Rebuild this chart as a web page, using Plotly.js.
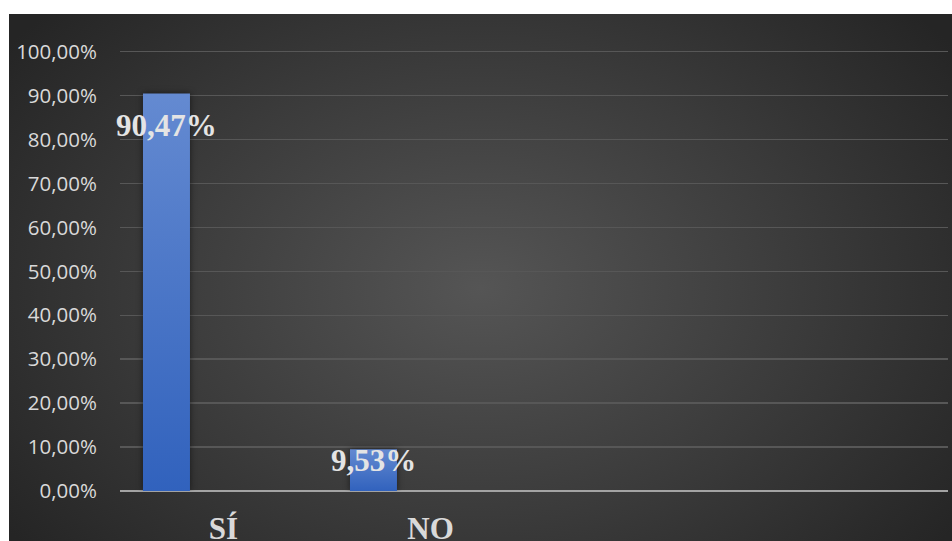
<!DOCTYPE html>
<html>
<head>
<meta charset="utf-8">
<script src="https://cdn.plot.ly/plotly-3.0.1.min.js"></script>
<style>
  html, body { margin: 0; padding: 0; background: #ffffff; }
  #wrap { position: relative; width: 952px; height: 541px; overflow: hidden; }
  #bg {
    position: absolute; left: 9px; top: 14px; width: 943px; height: 527px;
    background: radial-gradient(ellipse 62% 78% at 50% 52%, #555555 0%, #3b3b3b 55%, #252525 100%);
  }
  #chart { position: absolute; left: 0; top: 0; width: 952px; height: 541px; }
  .bars .point path { filter: drop-shadow(0 0 3px rgba(0,0,0,0.55)); }
</style>
</head>
<body>
<div id="wrap">
  <div id="bg"></div>
  <div id="chart"></div>
</div>
<script>
// Survey answers and their share of responses
const categories = ['SÍ', 'NO'];
const shares = [0.9047, 0.0953];
const valueLabels = ['90,47%', '9,53%'];

// Four category slots on the axis; only the first two hold answers
const SLOT_COUNT = 4;
const BAR_WIDTH = 0.227;     // in category units
const BAR_OFFSET = -0.389;   // left edge relative to the slot centre
const Y_MAX = 1.006;         // just above 100% so the top gridline is kept

const textColor = '#d9d9d9';
const serif = '"Liberation Serif", "Times New Roman", serif';

const trace = {
  type: 'bar',
  x: categories,
  y: shares,
  width: BAR_WIDTH,
  offset: BAR_OFFSET,
  marker: { color: '#4572c4', line: { width: 0 } },
  hoverinfo: 'skip'
};

const MARGIN = { l: 120, r: 4, t: 49, b: 50, pad: 0 };
const plotHeight = 541 - MARGIN.t - MARGIN.b;
const annotations = shares.map((v, i) => {
  const barPx = v / Y_MAX * plotHeight;
  return {
    x: i + BAR_OFFSET + BAR_WIDTH / 2,
    y: v,
    xref: 'x', yref: 'y',
    text: valueLabels[i],
    showarrow: false,
    yanchor: 'middle',
    yshift: -Math.min(32, barPx * 0.28),
    font: { family: serif, size: 31, color: '#e4e4e4', weight: 'bold' }
  };
});

const layout = {
  width: 952,
  height: 541,
  margin: MARGIN,
  paper_bgcolor: 'rgba(0,0,0,0)',
  plot_bgcolor: 'rgba(0,0,0,0)',
  separators: ',.',
  showlegend: false,
  xaxis: {
    type: 'category',
    range: [-0.5, SLOT_COUNT - 0.5],
    showgrid: false,
    zeroline: false,
    showline: false,
    ticks: '',
    ticklabelstandoff: 16,
    tickfont: { family: serif, size: 31, color: textColor, weight: 'bold' },
    fixedrange: true
  },
  yaxis: {
    range: [0, Y_MAX],
    tick0: 0,
    dtick: 0.1,
    tickformat: '.2%',
    showgrid: true,
    gridcolor: '#575757',
    gridwidth: 1.5,
    zeroline: true,
    zerolinecolor: '#a3a3a3',
    zerolinewidth: 2.2,
    showline: false,
    ticks: '',
    ticklabelstandoff: 22,
    tickfont: { family: '"Open Sans", "Liberation Sans", sans-serif', size: 20.5, color: textColor },
    fixedrange: true
  },
  annotations: annotations
};

Plotly.newPlot('chart', [trace], layout, { displayModeBar: false, staticPlot: true }).then(gd => {
  // vertical light-to-dark fill on each bar
  const svg = gd.querySelector('svg.main-svg');
  const ns = 'http://www.w3.org/2000/svg';
  let defs = svg.querySelector('defs');
  if (!defs) { defs = document.createElementNS(ns, 'defs'); svg.insertBefore(defs, svg.firstChild); }
  const grad = document.createElementNS(ns, 'linearGradient');
  grad.setAttribute('id', 'barFill');
  grad.setAttribute('x1', '0'); grad.setAttribute('y1', '0');
  grad.setAttribute('x2', '0'); grad.setAttribute('y2', '1');
  [['0%', '#648ad1'], ['100%', '#3162bd']].forEach(([o, c]) => {
    const s = document.createElementNS(ns, 'stop');
    s.setAttribute('offset', o); s.setAttribute('stop-color', c);
    grad.appendChild(s);
  });
  defs.appendChild(grad);
  gd.querySelectorAll('.bars .point path').forEach(p => { p.style.fill = 'url(#barFill)'; });
});
</script>
</body>
</html>
